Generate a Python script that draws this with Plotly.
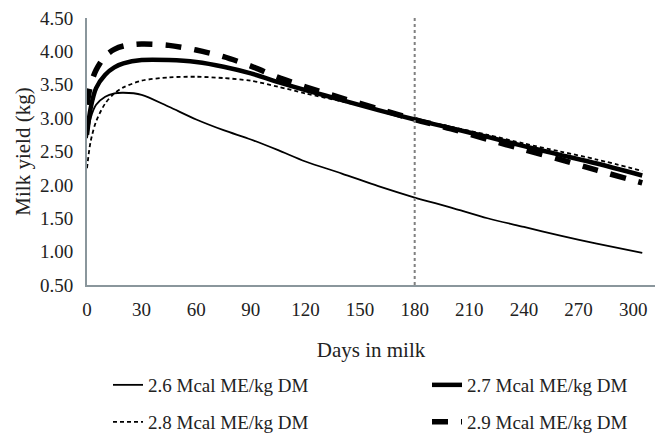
import plotly.graph_objects as go

days = [0, 2, 5, 10, 15, 20, 30, 45, 60, 75, 90, 105, 120, 140, 160, 180, 200, 220, 240, 260, 280, 305]
me_26 = [2.70, 3.00, 3.20, 3.32, 3.37, 3.38, 3.35, 3.17, 2.98, 2.82, 2.68, 2.52, 2.35, 2.17, 1.98, 1.81, 1.66, 1.50, 1.37, 1.24, 1.12, 0.98]
me_27 = [2.75, 3.15, 3.45, 3.65, 3.76, 3.82, 3.87, 3.87, 3.84, 3.77, 3.67, 3.54, 3.42, 3.27, 3.12, 2.98, 2.85, 2.72, 2.58, 2.45, 2.32, 2.14]
me_28 = [2.25, 2.65, 2.95, 3.22, 3.37, 3.46, 3.56, 3.61, 3.62, 3.60, 3.56, 3.47, 3.37, 3.25, 3.12, 2.99, 2.87, 2.75, 2.62, 2.50, 2.38, 2.21]
me_29 = [3.20, 3.50, 3.72, 3.93, 4.03, 4.08, 4.11, 4.09, 4.02, 3.92, 3.78, 3.61, 3.47, 3.30, 3.14, 2.98, 2.84, 2.68, 2.53, 2.38, 2.22, 2.03]
names = ["2.6 Mcal ME/kg DM", "2.7 Mcal ME/kg DM", "2.8 Mcal ME/kg DM", "2.9 Mcal ME/kg DM"]
x_ticks = [0, 30, 60, 90, 120, 150, 180, 210, 240, 270, 300]
y_ticks = [0.5, 1.0, 1.5, 2.0, 2.5, 3.0, 3.5, 4.0, 4.5]
cutoff_day = 180

FONT = "Liberation Serif"
W, H = 668, 433
ML, MR, MT, MB = 87, 13, 18, 148
PW, PH = W - ML - MR, H - MT - MB

fig = go.Figure()
styles = [
    dict(color="black", width=1.8, dash="solid"),
    dict(color="black", width=4.5, dash="solid"),
    dict(color="black", width=1.8, dash="4px,3px"),
    dict(color="black", width=5.5, dash="16px,13px"),
]
legend_ids = ["legend", "legend2", "legend3", "legend4"]
for ys, nm, st, lg in zip([me_26, me_27, me_28, me_29], names, styles, legend_ids):
    fig.add_trace(go.Scatter(x=days, y=ys, name=nm, mode="lines", legend=lg,
                             line=dict(shape="spline", smoothing=0.8, **st)))

fig.add_shape(type="line", xref="x", yref="y", x0=cutoff_day, x1=cutoff_day, y0=0.5, y1=4.5,
              line=dict(color="#808080", width=2, dash="dot"), layer="above")

leg_common = dict(orientation="h", xanchor="left", yanchor="middle",
                  font=dict(size=19, family=FONT, color="#222"),
                  itemwidth=30, bgcolor="rgba(0,0,0,0)")
# legend placement in pixels (left edge, vertical centre)
leg_px = [(108, 385), (427, 385), (108, 422), (427, 422)]
legends = {}
for lid, (lx, ly) in zip(legend_ids, leg_px):
    legends[lid] = dict(x=(lx - ML) / PW, y=(H - MB - ly) / PH, **leg_common)

fig.update_layout(
    width=W, height=H,
    margin=dict(l=ML, r=MR, t=MT, b=MB, autoexpand=False),
    paper_bgcolor="white", plot_bgcolor="white",
    font=dict(family=FONT, size=19, color="#222"),
    xaxis=dict(range=[0, 312], tickvals=x_ticks, showgrid=False, zeroline=False,
               showline=True, linecolor="#8a969c", linewidth=2, ticks="",
               ticklabelstandoff=6,
               title=dict(text="Days in milk", font=dict(size=21), standoff=24),
               tickfont=dict(size=19)),
    yaxis=dict(range=[0.5, 4.5], tickvals=y_ticks, tickformat=".2f", showgrid=False, zeroline=False,
               showline=True, linecolor="#8a969c", linewidth=2, ticks="",
               ticklabelstandoff=8,
               title=dict(text="Milk yield (kg)", font=dict(size=21), standoff=4),
               tickfont=dict(size=19)),
    showlegend=True,
    **legends,
)
fig.write_html("out.html", config={"displayModeBar": False},
               post_script="document.body.style.margin='0';")
